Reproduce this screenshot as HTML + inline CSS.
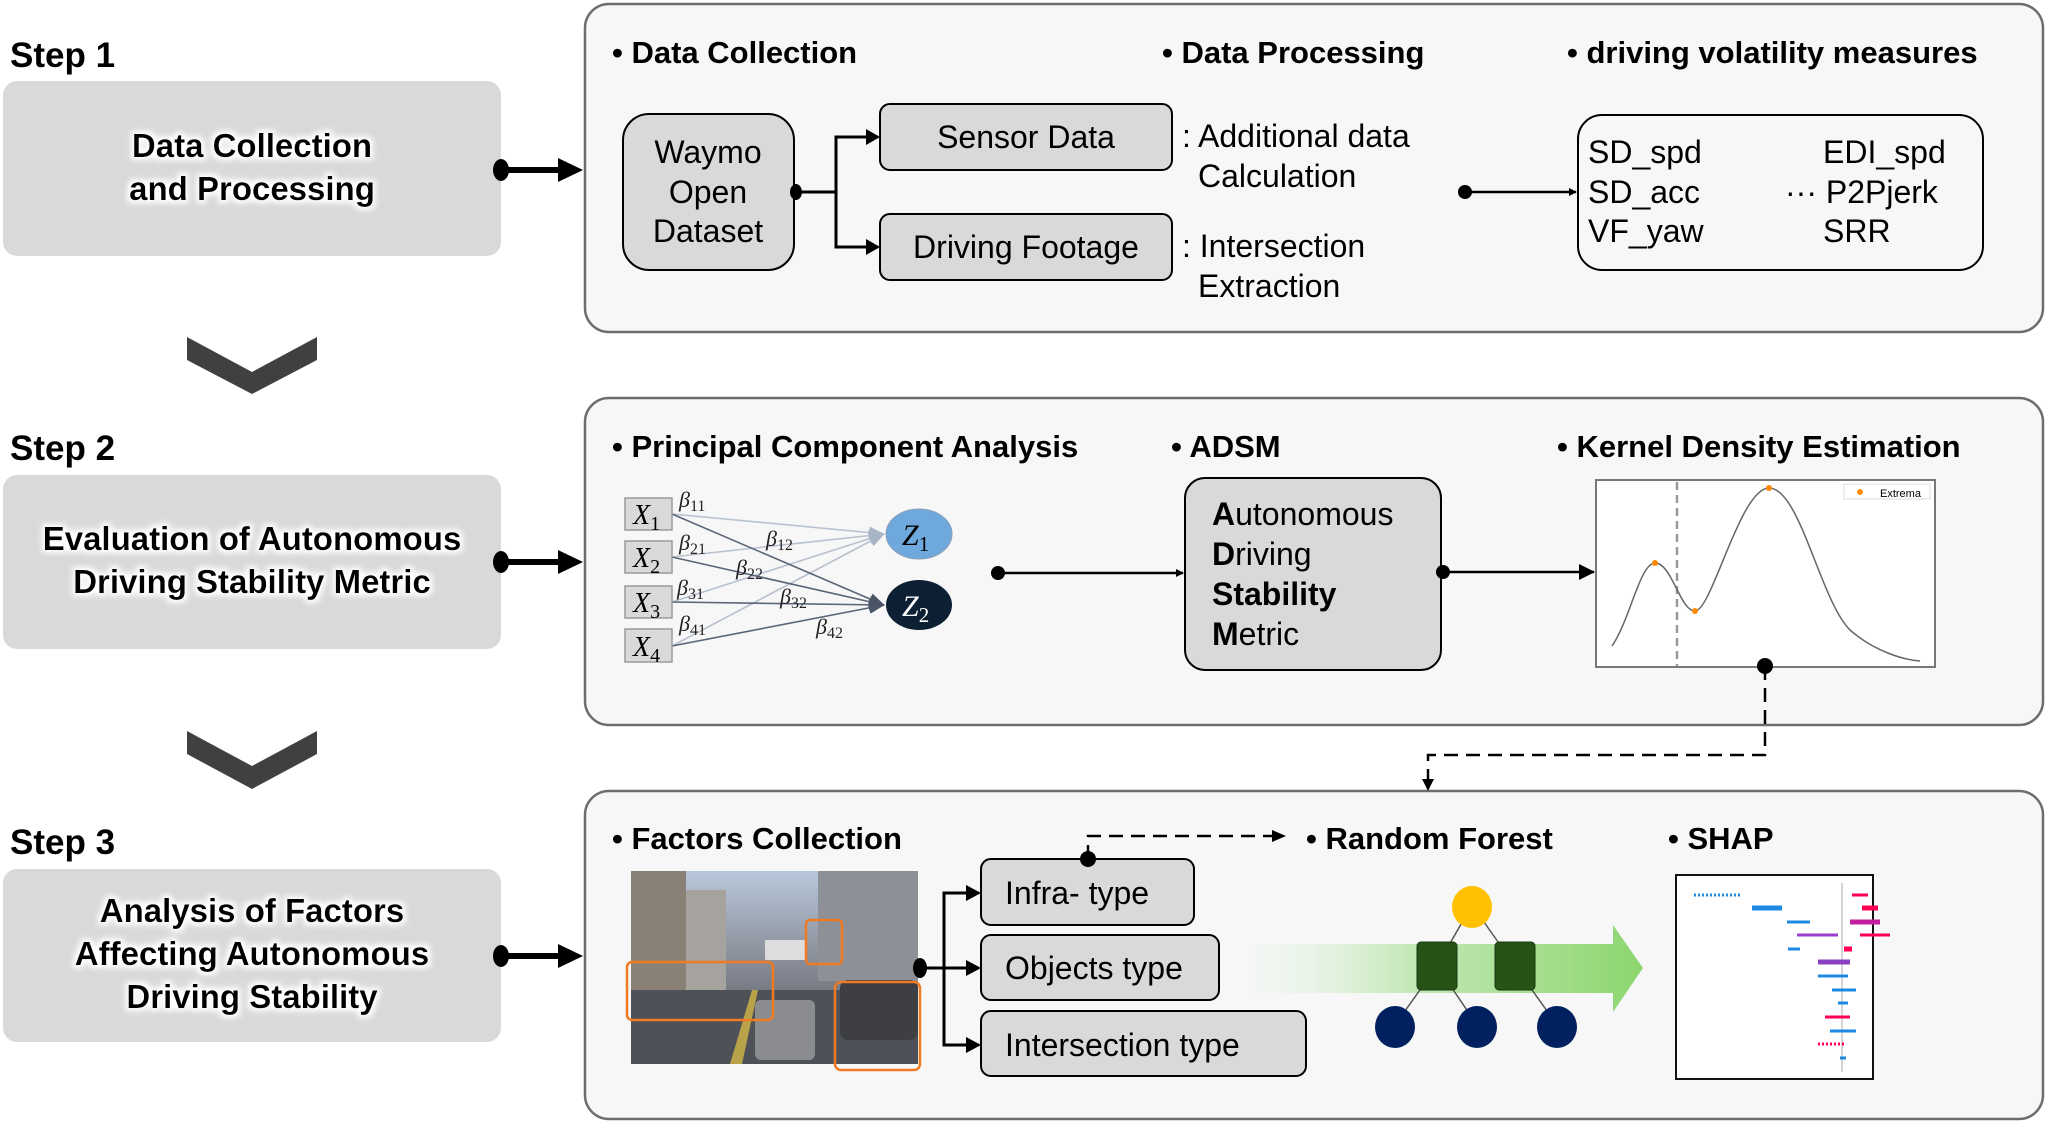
<!DOCTYPE html>
<html><head><meta charset="utf-8"><style>
html,body{margin:0;padding:0;background:#fff;}
svg{display:block;}
text{font-family:"Liberation Sans",sans-serif;}
.h{font-size:31px;font-weight:bold;}
.st{font-size:35px;font-weight:bold;}
.lb{font-size:33px;font-weight:bold;text-anchor:middle;}
.n{font-size:32px;}
.m{font-family:"Liberation Serif",serif;font-style:italic;}
</style></head><body>
<svg width="2048" height="1124" viewBox="0 0 2048 1124" xmlns="http://www.w3.org/2000/svg">
<defs>
<marker id="ah" markerWidth="8" markerHeight="8" refX="7" refY="4" orient="auto" markerUnits="userSpaceOnUse" viewBox="0 0 8 8"><path d="M0,0 L8,4 L0,8z" fill="#000"/></marker>
<marker id="ab" markerWidth="16" markerHeight="16" refX="15" refY="8" orient="auto" markerUnits="userSpaceOnUse" viewBox="0 0 16 16"><path d="M0,0 L16,8 L0,16z" fill="#000"/></marker>
<marker id="az1" markerWidth="16" markerHeight="16" refX="15" refY="8" orient="auto" markerUnits="userSpaceOnUse"><path d="M0,2 L16,8 L0,14z" fill="#a9b4c4"/></marker>
<marker id="az2" markerWidth="16" markerHeight="16" refX="15" refY="8" orient="auto" markerUnits="userSpaceOnUse"><path d="M0,2 L16,8 L0,14z" fill="#4a5568"/></marker>
<linearGradient id="ga" x1="0" x2="1" y1="0" y2="0"><stop offset="0" stop-color="#e6f5e6" stop-opacity="0.2"/><stop offset="0.4" stop-color="#c4e8b8"/><stop offset="1" stop-color="#8cd66e"/></linearGradient>
<linearGradient id="sky" x1="0" y1="0" x2="0" y2="1"><stop offset="0" stop-color="#b9c8dc"/><stop offset="0.45" stop-color="#8a8f99"/><stop offset="1" stop-color="#4a4f57"/></linearGradient>
<filter id="gl" x="-10%" y="-20%" width="120%" height="140%"><feMorphology in="SourceAlpha" operator="dilate" radius="3" result="d"/><feGaussianBlur in="d" stdDeviation="3" result="b"/><feFlood flood-color="#fff"/><feComposite in2="b" operator="in" result="w"/><feMerge><feMergeNode in="w"/><feMergeNode in="SourceGraphic"/></feMerge></filter>
</defs>

<text x="10" y="67" class="st">Step 1</text>
<text x="10" y="460" class="st">Step 2</text>
<text x="10" y="854" class="st">Step 3</text>

<rect x="3" y="81" width="498" height="175" rx="14" fill="#d9d9d9"/>
<rect x="3" y="475" width="498" height="174" rx="14" fill="#d9d9d9"/>
<rect x="3" y="869" width="498" height="173" rx="14" fill="#d9d9d9"/>
<g filter="url(#gl)">
<text x="252" y="157" class="lb">Data Collection</text>
<text x="252" y="200" class="lb">and Processing</text>
<text x="252" y="550" class="lb">Evaluation of Autonomous</text>
<text x="252" y="593" class="lb">Driving Stability Metric</text>
<text x="252" y="922" class="lb">Analysis of Factors</text>
<text x="252" y="965" class="lb">Affecting Autonomous</text>
<text x="252" y="1008" class="lb">Driving Stability</text>
</g>

<path d="M187,337 L252,372 L317,337 L317,360 L252,394 L187,360z" fill="#404040"/>
<path d="M187,731 L252,766 L317,731 L317,754 L252,789 L187,754z" fill="#404040"/>

<g stroke="#000" stroke-width="6">
<line x1="500" y1="170" x2="562" y2="170"/>
<line x1="500" y1="562" x2="562" y2="562"/>
<line x1="500" y1="956" x2="562" y2="956"/>
</g>
<path d="M558,158 L583,170 L558,182z M558,550 L583,562 L558,574z M558,944 L583,956 L558,968z"/>
<ellipse cx="501" cy="170" rx="8" ry="11" fill="#000"/>
<ellipse cx="501" cy="562" rx="8" ry="11" fill="#000"/>
<ellipse cx="501" cy="956" rx="8" ry="11" fill="#000"/>

<rect x="585" y="4" width="1458" height="328" rx="24" fill="#f7f7f7" stroke="#6d6d6d" stroke-width="2.5"/>
<rect x="585" y="398" width="1458" height="327" rx="24" fill="#f7f7f7" stroke="#6d6d6d" stroke-width="2.5"/>
<rect x="585" y="791" width="1458" height="328" rx="24" fill="#f7f7f7" stroke="#6d6d6d" stroke-width="2.5"/>

<text x="612" y="63" class="h">• Data Collection</text>
<text x="1162" y="63" class="h">• Data Processing</text>
<text x="1567" y="63" class="h">• driving volatility measures</text>
<rect x="623" y="114" width="171" height="156" rx="26" fill="#d9d9d9" stroke="#000" stroke-width="2"/>
<text x="708" y="163" class="n" text-anchor="middle">Waymo</text>
<text x="708" y="203" class="n" text-anchor="middle">Open</text>
<text x="708" y="242" class="n" text-anchor="middle">Dataset</text>
<rect x="880" y="104" width="292" height="66" rx="10" fill="#d9d9d9" stroke="#000" stroke-width="2"/>
<text x="1026" y="148" class="n" text-anchor="middle">Sensor Data</text>
<rect x="880" y="214" width="292" height="66" rx="10" fill="#d9d9d9" stroke="#000" stroke-width="2"/>
<text x="1026" y="258" class="n" text-anchor="middle">Driving Footage</text>
<g stroke="#000" stroke-width="3" fill="none">
<line x1="794" y1="192" x2="836" y2="192"/>
<polyline points="878,137 836,137 836,247 878,247"/>
</g>
<path d="M866,129 L880,137 L866,145z M866,239 L880,247 L866,255z"/>
<ellipse cx="796" cy="192" rx="6" ry="8"/>
<text x="1182" y="147" class="n">: Additional data</text>
<text x="1198" y="187" class="n">Calculation</text>
<text x="1182" y="257" class="n">: Intersection</text>
<text x="1198" y="297" class="n">Extraction</text>
<line x1="1465" y1="192" x2="1576" y2="192" stroke="#000" stroke-width="2.5" marker-end="url(#ah)"/>
<circle cx="1465" cy="192" r="7"/>
<rect x="1578" y="115" width="405" height="155" rx="24" fill="#f7f7f7" stroke="#000" stroke-width="2"/>
<text x="1588" y="163" class="n">SD_spd</text>
<text x="1588" y="203" class="n">SD_acc</text>
<text x="1588" y="242" class="n">VF_yaw</text>
<text x="1823" y="163" class="n">EDI_spd</text>
<text x="1785" y="203" class="n">··· P2Pjerk</text>
<text x="1823" y="242" class="n">SRR</text>

<text x="612" y="457" class="h">• Principal Component Analysis</text>
<text x="1171" y="457" class="h">• ADSM</text>
<text x="1557" y="457" class="h">• Kernel Density Estimation</text>
<g stroke-width="1.6">
<line x1="672" y1="514" x2="884" y2="534" stroke="#b8c1ce" marker-end="url(#az1)"/>
<line x1="672" y1="557" x2="884" y2="534" stroke="#b8c1ce" marker-end="url(#az1)"/>
<line x1="672" y1="602" x2="884" y2="534" stroke="#b8c1ce" marker-end="url(#az1)"/>
<line x1="672" y1="646" x2="884" y2="534" stroke="#b8c1ce" marker-end="url(#az1)"/>
<line x1="672" y1="514" x2="884" y2="605" stroke="#5a6578" marker-end="url(#az2)"/>
<line x1="672" y1="557" x2="884" y2="605" stroke="#5a6578" marker-end="url(#az2)"/>
<line x1="672" y1="602" x2="884" y2="605" stroke="#5a6578" marker-end="url(#az2)"/>
<line x1="672" y1="646" x2="884" y2="605" stroke="#5a6578" marker-end="url(#az2)"/>
</g>
<g fill="#d9d9d9" stroke="#9a9a9a" stroke-width="1.5">
<rect x="625" y="498" width="47" height="32"/>
<rect x="625" y="541" width="47" height="32"/>
<rect x="625" y="586" width="47" height="32"/>
<rect x="625" y="629" width="47" height="33"/>
</g>
<g font-size="28">
<text x="633" y="524" class="m">X<tspan font-size="20" font-style="normal" dy="6">1</tspan></text>
<text x="633" y="567" class="m">X<tspan font-size="20" font-style="normal" dy="6">2</tspan></text>
<text x="633" y="612" class="m">X<tspan font-size="20" font-style="normal" dy="6">3</tspan></text>
<text x="633" y="656" class="m">X<tspan font-size="20" font-style="normal" dy="6">4</tspan></text>
</g>
<g font-size="22" fill="#222">
<text x="679" y="507" class="m">β<tspan font-size="16" font-style="normal" dy="4">11</tspan></text>
<text x="679" y="550" class="m">β<tspan font-size="16" font-style="normal" dy="4">21</tspan></text>
<text x="677" y="595" class="m">β<tspan font-size="16" font-style="normal" dy="4">31</tspan></text>
<text x="679" y="631" class="m">β<tspan font-size="16" font-style="normal" dy="4">41</tspan></text>
<text x="766" y="546" class="m">β<tspan font-size="16" font-style="normal" dy="4">12</tspan></text>
<text x="736" y="575" class="m">β<tspan font-size="16" font-style="normal" dy="4">22</tspan></text>
<text x="780" y="604" class="m">β<tspan font-size="16" font-style="normal" dy="4">32</tspan></text>
<text x="816" y="634" class="m">β<tspan font-size="16" font-style="normal" dy="4">42</tspan></text>
</g>
<ellipse cx="919" cy="534" rx="33" ry="25" fill="#6fa8dc" stroke="#8aa0b8" stroke-width="1"/>
<ellipse cx="919" cy="605" rx="33" ry="25" fill="#0c1f33"/>
<text x="902" y="545" font-size="30" class="m">Z<tspan font-size="21" font-style="normal" dy="6">1</tspan></text>
<text x="902" y="616" font-size="30" class="m" fill="#fff">Z<tspan font-size="21" font-style="normal" dy="6">2</tspan></text>
<line x1="998" y1="573" x2="1183" y2="573" stroke="#000" stroke-width="2.5" marker-end="url(#ah)"/>
<circle cx="998" cy="573" r="7"/>
<rect x="1185" y="478" width="256" height="192" rx="20" fill="#d9d9d9" stroke="#000" stroke-width="2"/>
<g font-size="32">
<text x="1212" y="525"><tspan font-weight="bold">A</tspan>utonomous</text>
<text x="1212" y="565"><tspan font-weight="bold">D</tspan>riving</text>
<text x="1212" y="605" font-weight="bold">Stability</text>
<text x="1212" y="645"><tspan font-weight="bold">M</tspan>etric</text>
</g>
<line x1="1441" y1="572" x2="1594" y2="572" stroke="#000" stroke-width="2.5" marker-end="url(#ab)"/>
<circle cx="1443" cy="572" r="7"/>
<rect x="1596" y="480" width="339" height="187" fill="#fff" stroke="#777" stroke-width="2"/>
<line x1="1677" y1="482" x2="1677" y2="666" stroke="#999" stroke-width="2.5" stroke-dasharray="8,5"/>
<path d="M1612,646 C1630,620 1640,563 1655,563 C1672,563 1680,611 1695,611 C1712,611 1740,488 1769,488 C1800,488 1820,600 1850,630 C1875,652 1905,660 1920,661" fill="none" stroke="#666" stroke-width="1.5"/>
<circle cx="1655" cy="563" r="3" fill="#ff8a00"/><circle cx="1695" cy="611" r="3" fill="#ff8a00"/><circle cx="1769" cy="488" r="3" fill="#ff8a00"/>
<rect x="1844" y="484" width="86" height="15" fill="#fff" stroke="#ddd"/>
<circle cx="1860" cy="492" r="3" fill="#ff8a00"/>
<text x="1880" y="497" font-size="11">Extrema</text>
<circle cx="1765" cy="666" r="8"/>
<polyline points="1765,666 1765,755 1428,755 1428,786" fill="none" stroke="#000" stroke-width="2.5" stroke-dasharray="14,8"/>
<path d="M1422,779 L1428,791 L1434,779z"/>

<text x="612" y="849" class="h">• Factors Collection</text>
<text x="1306" y="849" class="h">• Random Forest</text>
<text x="1668" y="849" class="h">• SHAP</text>
<rect x="631" y="871" width="287" height="193" fill="url(#sky)"/>
<rect x="631" y="871" width="55" height="120" fill="#8a8176"/>
<rect x="686" y="890" width="40" height="100" fill="#a6a39e"/>
<rect x="818" y="871" width="100" height="110" fill="#8e9097"/>
<rect x="765" y="940" width="40" height="20" fill="#ddd"/>
<path d="M631,990 L918,990 L918,1064 L631,1064z" fill="#4e5157"/>
<path d="M730,1064 L752,990 L758,990 L742,1064z" fill="#b8a24a"/>
<rect x="755" y="1000" width="60" height="60" rx="6" fill="#8a8c90"/>
<rect x="840" y="980" width="78" height="60" rx="8" fill="#3d3f44"/>
<g fill="none" stroke="#f07a22" stroke-width="2.5">
<rect x="627" y="962" width="146" height="58" rx="5"/>
<rect x="806" y="920" width="36" height="44" rx="4"/>
<rect x="835" y="982" width="85" height="88" rx="6"/>
</g>
<rect x="981" y="859" width="213" height="66" rx="10" fill="#d9d9d9" stroke="#000" stroke-width="2"/>
<text x="1005" y="904" class="n">Infra- type</text>
<rect x="981" y="935" width="238" height="65" rx="10" fill="#d9d9d9" stroke="#000" stroke-width="2"/>
<text x="1005" y="979" class="n">Objects type</text>
<rect x="981" y="1011" width="325" height="65" rx="10" fill="#d9d9d9" stroke="#000" stroke-width="2"/>
<text x="1005" y="1056" class="n">Intersection type</text>
<g stroke="#000" stroke-width="3" fill="none">
<line x1="918" y1="968" x2="944" y2="968"/>
<polyline points="979,893 944,893 944,1045 979,1045"/>
<line x1="944" y1="968" x2="979" y2="968"/>
</g>
<path d="M966,885 L981,893 L966,901z M966,960 L981,968 L966,976z M966,1037 L981,1045 L966,1053z"/>
<ellipse cx="920" cy="968" rx="7" ry="10"/>
<circle cx="1088" cy="859" r="8"/>
<polyline points="1088,859 1088,836 1280,836" fill="none" stroke="#000" stroke-width="2.5" stroke-dasharray="14,8"/>
<path d="M1272,830 L1286,836 L1272,842z"/>
<path d="M1254,944 L1613,944 L1613,925 L1643,968 L1613,1012 L1613,993 L1254,993z" fill="url(#ga)"/>
<g stroke="#555" stroke-width="1.5">
<line x1="1472" y1="905" x2="1437" y2="966"/><line x1="1472" y1="905" x2="1515" y2="966"/>
<line x1="1437" y1="966" x2="1395" y2="1025"/><line x1="1437" y1="966" x2="1477" y2="1025"/><line x1="1515" y1="966" x2="1557" y2="1025"/>
</g>
<ellipse cx="1472" cy="907" rx="20" ry="21" fill="#ffc000"/>
<rect x="1417" y="942" width="40" height="48" rx="4" fill="#275317" stroke="#1a3a0f"/>
<rect x="1495" y="942" width="40" height="48" rx="4" fill="#275317" stroke="#1a3a0f"/>
<ellipse cx="1395" cy="1027" rx="20" ry="21" fill="#002060"/>
<ellipse cx="1477" cy="1027" rx="20" ry="21" fill="#002060"/>
<ellipse cx="1557" cy="1027" rx="20" ry="21" fill="#002060"/>
<rect x="1676" y="875" width="197" height="204" fill="#fff" stroke="#111" stroke-width="2"/>
<line x1="1842" y1="883" x2="1842" y2="1072" stroke="#aaa" stroke-width="1"/>
<g stroke-width="3">
<line x1="1694" y1="895" x2="1742" y2="895" stroke="#1e88e5" stroke-dasharray="2,2"/>
<line x1="1868" y1="895" x2="1852" y2="895" stroke="#ff0052"/>
<line x1="1752" y1="908" x2="1782" y2="908" stroke="#1e88e5" stroke-width="5"/>
<line x1="1862" y1="908" x2="1878" y2="908" stroke="#ff0052" stroke-width="5"/>
<line x1="1787" y1="922" x2="1810" y2="922" stroke="#1e88e5"/>
<line x1="1850" y1="922" x2="1880" y2="922" stroke="#c020a0" stroke-width="5"/>
<line x1="1797" y1="935" x2="1838" y2="935" stroke="#9b3fd0"/>
<line x1="1860" y1="935" x2="1890" y2="935" stroke="#ff0052"/>
<line x1="1788" y1="949" x2="1800" y2="949" stroke="#1e88e5"/>
<line x1="1844" y1="949" x2="1852" y2="949" stroke="#ff0052" stroke-width="5"/>
<line x1="1818" y1="962" x2="1850" y2="962" stroke="#8a3fc0" stroke-width="5"/>
<line x1="1818" y1="976" x2="1848" y2="976" stroke="#1e88e5"/>
<line x1="1832" y1="990" x2="1856" y2="990" stroke="#1e88e5"/>
<line x1="1838" y1="1003" x2="1848" y2="1003" stroke="#1e88e5"/>
<line x1="1825" y1="1017" x2="1850" y2="1017" stroke="#ff0052"/>
<line x1="1830" y1="1031" x2="1856" y2="1031" stroke="#1e88e5"/>
<line x1="1818" y1="1044" x2="1845" y2="1044" stroke="#ff0052" stroke-dasharray="2,2"/>
<line x1="1840" y1="1058" x2="1846" y2="1058" stroke="#1e88e5"/>
</g>
</svg>
</body></html>
